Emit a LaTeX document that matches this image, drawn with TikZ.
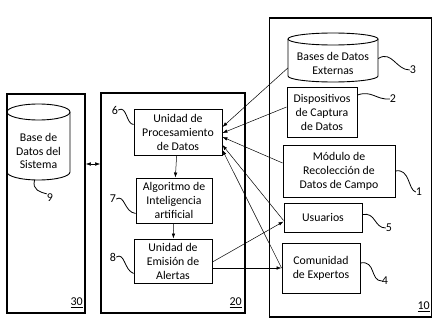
\documentclass[tikz,border=0pt]{standalone}
\usepackage{fontspec}
\setmainfont{Carlito}
\usetikzlibrary{arrows.meta,calc}
\begin{document}
\begin{tikzpicture}[x=1pt,y=-1pt,
  frame/.style={draw, line width=1.6pt},
  boxn/.style={draw, line width=0.9pt, align=center, inner sep=1pt, font=\fontsize{11.8}{14}\selectfont},
  dbtext/.style={align=center, inner sep=0pt, font=\fontsize{11.8}{13.5}\selectfont},
  num/.style={inner sep=0pt, font=\fontsize{12}{13}\selectfont},
  sq/.style={line width=0.8pt},
  con/.style={line width=0.5pt, -{Latex[length=5pt,width=3.5pt]}},
  dcon/.style={line width=0.5pt, {Latex[length=5pt,width=3.5pt]}-{Latex[length=5pt,width=3.5pt]}}
]
\fill[white] (0,0) rectangle (434,332);
\useasboundingbox (0,0) rectangle (434,332);

% frames
\node[frame, minimum width=78pt, minimum height=219pt, inner sep=0pt] (f30) at (46,203.5) {};
\node[frame, minimum width=144pt, minimum height=220pt, inner sep=0pt] (f20) at (173,203) {};
\node[frame, minimum width=162pt, minimum height=299pt, inner sep=0pt] (f10) at (350.5,167.5) {};
\node[num, anchor=south east] (l30) at (83,308) {\underline{30}};
\node[num, anchor=south east] (l20) at (242,308) {\underline{20}};
\node[num, anchor=south east] (l10) at (430,312) {\underline{10}};

% cylinder 9
\draw[line width=0.9pt] (38.5,112) ellipse [x radius=31.5, y radius=8];
\draw[line width=0.9pt] (7,112) -- (7,172) arc [start angle=180, end angle=0, x radius=31.5, y radius=8] -- (70,112);
\node[dbtext, minimum width=63pt, minimum height=76pt] (db9) at (38.5,142) {};
\node[dbtext] (db9t) at (38.5,151) {Base de\\Datos del\\Sistema};

% cylinder 3
\draw[line width=0.9pt] (333,39) ellipse [x radius=45, y radius=6];
\draw[line width=0.9pt] (288,39) -- (288,76) arc [start angle=180, end angle=0, x radius=45, y radius=6] -- (378,39);
\node[dbtext, minimum width=90pt, minimum height=49pt] (cyl3) at (333,57.5) {};
\node[dbtext] (cyl3t) at (333,63.5) {Bases de Datos\\Externas};

% boxes in 20
\node[boxn, minimum width=88pt, minimum height=46pt] (b6) at (178,132) {Unidad de\\Procesamiento\\de Datos};
\node[boxn, minimum width=76pt, minimum height=45pt] (b7) at (174,200.5) {Algoritmo de\\Inteligencia\\artificial};
\node[boxn, minimum width=78pt, minimum height=44pt] (b8) at (173,261) {Unidad de\\Emisión de\\Alertas};

% boxes in 10
\node[boxn, minimum width=70pt, minimum height=50pt] (b2) at (322,112) {Dispositivos\\de Captura\\de Datos};
\node[boxn, minimum width=112pt, minimum height=52pt] (b1) at (339,171) {Módulo de\\Recolección de\\Datos de Campo};
\node[boxn, minimum width=78pt, minimum height=29pt] (b5) at (323,217.5) {Usuarios};
\node[boxn, minimum width=78pt, minimum height=50pt] (b4) at (321,268) {Comunidad\\de Expertos};

% labels
\node[num] (n6) at (115,110) {6};
\node[num] (n7) at (113,199) {7};
\node[num] (n8) at (113,257) {8};
\node[num] (n9) at (50,198) {9};
\node[num] (n3) at (413,70) {3};
\node[num] (n2) at (393,99) {2};
\node[num] (n1) at (419,192) {1};
\node[num] (n5) at (389,228) {5};
\node[num] (n4) at (385,281) {4};

\draw[sq] (n6.east) .. controls (127,105) and (126,124) .. ([yshift=-16pt]b6.north west);
\draw[sq] (n7.east) .. controls (125,194) and (124,212) .. ([yshift=10pt]b7.south west);
\draw[sq] (n8.east) .. controls (125,252) and (124,270) .. ([yshift=10pt]b8.south west);
\draw[sq] ([xshift=-4pt]db9.south) .. controls (32,190) and (40,192) .. (n9.north west);
\draw[sq] ([yshift=-1pt]cyl3.east) .. controls (392,50) and (396,70) .. (n3.west);
\draw[sq] ([yshift=17pt]b2.east) .. controls (372,90) and (376,100) .. (n2.west);
\draw[sq] (b1.east) .. controls (410,168) and (408,190) .. (n1.west);
\draw[sq] ([yshift=3pt]b5.east) .. controls (376,212) and (374,228) .. (n5.west);
\draw[sq] ([yshift=5pt]b4.east) .. controls (376,260) and (370,281) .. (n4.west);

% connectors
\draw[dcon] (f30.east |- 0,164) -- (f20.west |- 0,164);
\draw[con] (b6) -- (b7);
\draw[con] (b7) -- (b8);
\draw[con] ([yshift=-10.5pt]cyl3.west) -- ([yshift=5pt]b6.east);
\draw[con] ([yshift=5pt]b2.west) -- ([yshift=-1pt]b6.east);
\draw[con] ([yshift=8pt]b1.west) -- ([yshift=-5pt]b6.east);
\draw[con] ([yshift=-3pt]b5.west) -- ([yshift=-13pt]b6.east);
\draw[con] (b4.west) -- ([yshift=-18pt]b6.east);
\draw[con] ([yshift=-1pt]b8.east) -- ([yshift=-4pt]b5.west);
\draw[con] ([yshift=-7pt]b8.east) -- (b4.west);
\end{tikzpicture}
\end{document}
